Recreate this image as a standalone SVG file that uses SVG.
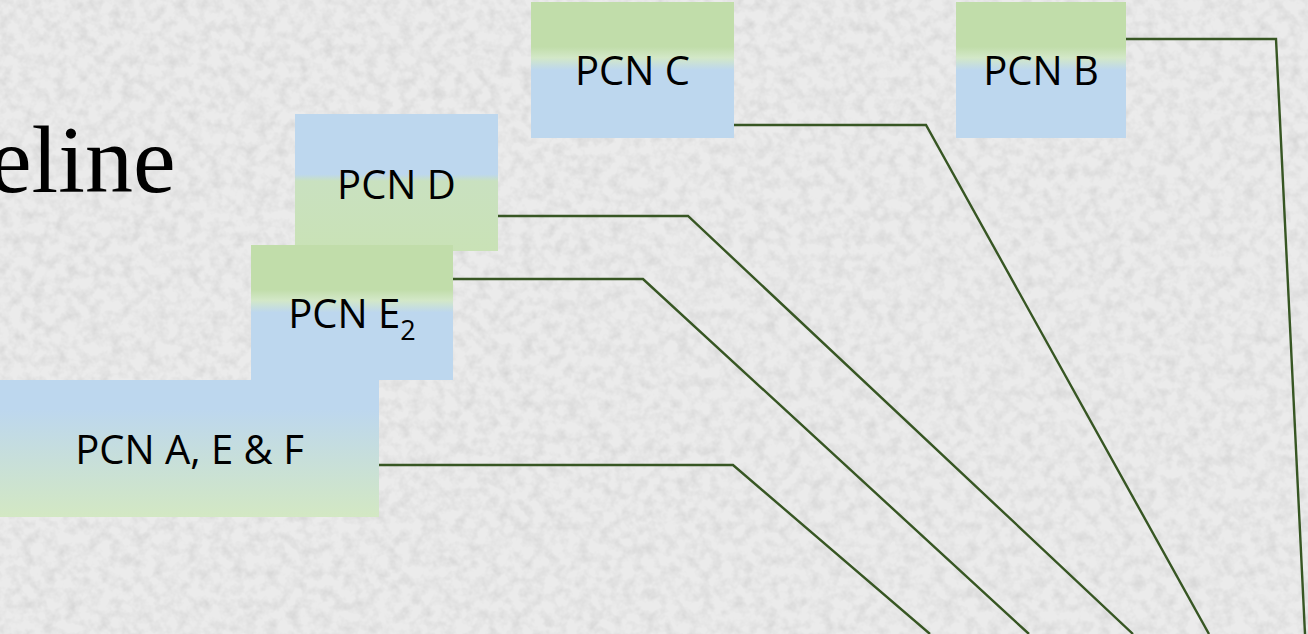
<svg xmlns="http://www.w3.org/2000/svg" width="1308" height="634" viewBox="0 0 1308 634">
  <style>
    .lbl { font-family: "Open Sans", "Liberation Sans", sans-serif; font-size: 40px; fill: #000; text-anchor: middle; }
    .conn { fill: none; stroke: #375623; stroke-width: 2.4; stroke-linejoin: miter; }
    .title { font-family: "Liberation Serif", "DejaVu Serif", serif; font-size: 96px; fill: #000; }
  </style>
  <defs>
    <filter id="grain" x="0" y="0" width="1308" height="634" filterUnits="userSpaceOnUse">
      <feTurbulence type="fractalNoise" baseFrequency="0.09" numOctaves="3" seed="7" result="n"/>
      <feColorMatrix in="n" type="matrix" values="0 0 0 0 0.62  0 0 0 0 0.62  0 0 0 0 0.62  1.3 0 0 0 -0.5"/>
    </filter>
    <linearGradient id="gBlueGreen" x1="0" y1="0" x2="0" y2="1">
      <stop offset="0" stop-color="#BDD7EE"/>
      <stop offset="0.44" stop-color="#BDD7EE"/>
      <stop offset="0.49" stop-color="#C9E1C0"/>
      <stop offset="1" stop-color="#C9E2B6"/>
    </linearGradient>
    <linearGradient id="gGreenBlue" x1="0" y1="0" x2="0" y2="1">
      <stop offset="0" stop-color="#C1DDAA"/>
      <stop offset="0.33" stop-color="#C1DDAA"/>
      <stop offset="0.41" stop-color="#D3E8C8"/>
      <stop offset="0.50" stop-color="#BDD7EE"/>
      <stop offset="1" stop-color="#BDD7EE"/>
    </linearGradient>
    <linearGradient id="gSoft" x1="0" y1="0" x2="0" y2="1">
      <stop offset="0" stop-color="#BDD7EE"/>
      <stop offset="0.22" stop-color="#BDD7EE"/>
      <stop offset="1" stop-color="#D3E8C3"/>
    </linearGradient>
  </defs>

  <rect x="0" y="0" width="1308" height="634" fill="#EBEBEB"/>
  <rect x="0" y="0" width="1308" height="634" fill="#fff" filter="url(#grain)"/>

  <text class="title" x="-11" y="192">eline</text>

  <g id="connectors">
    <polyline class="conn" points="379,465 733,465 930,634"/>
    <polyline class="conn" points="453,279 643,279 1029,634"/>
    <polyline class="conn" points="498,216 688,216 1133,634"/>
    <polyline class="conn" points="734,125 926,125 1209,634"/>
    <polyline class="conn" points="1126,39 1276,39 1305,634"/>
  </g>

  <g id="node-pcn-d">
    <rect x="295" y="114" width="203" height="137" fill="url(#gBlueGreen)"/>
    <text class="lbl" x="396.5" y="199">PCN D</text>
  </g>

  <g id="node-pcn-e2">
    <rect x="251" y="245" width="202" height="135" fill="url(#gGreenBlue)"/>
    <text class="lbl" x="352" y="328">PCN E<tspan font-size="27px" dy="12">2</tspan></text>
  </g>

  <g id="node-pcn-aef">
    <rect x="0" y="380" width="379" height="137" fill="url(#gSoft)"/>
    <text class="lbl" x="189.5" y="464">PCN A, E &amp; F</text>
  </g>

  <g id="node-pcn-c">
    <rect x="531" y="2" width="203" height="136" fill="url(#gGreenBlue)"/>
    <text class="lbl" x="632.5" y="85">PCN C</text>
  </g>

  <g id="node-pcn-b">
    <rect x="956" y="2" width="170" height="136" fill="url(#gGreenBlue)"/>
    <text class="lbl" x="1041" y="85">PCN B</text>
  </g>
</svg>
